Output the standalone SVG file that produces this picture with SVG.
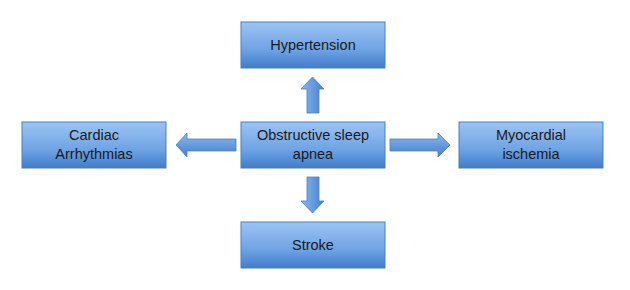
<svg xmlns="http://www.w3.org/2000/svg" width="630" height="290" viewBox="0 0 630 290">
<style>
.box{fill:url(#g);stroke:#4a7fc0;stroke-width:1}
.t{font-family:"Liberation Sans",Arial,sans-serif;font-size:14.5px;fill:#1a1a1a;text-anchor:middle}
.arr{stroke:#4a7fc0;stroke-width:0.8}
</style>
<defs>
<linearGradient id="g" x1="0" y1="0" x2="0" y2="1">
<stop offset="0" stop-color="#9cc4f4"/>
<stop offset="0.6" stop-color="#6fa3e4"/>
<stop offset="1" stop-color="#3f7dca"/>
</linearGradient>
<linearGradient id="gv" x1="0" y1="0" x2="1" y2="0">
<stop offset="0" stop-color="#8ab8f0"/>
<stop offset="1" stop-color="#4380cc"/>
</linearGradient>
<linearGradient id="gh" x1="0" y1="0" x2="0" y2="1">
<stop offset="0" stop-color="#8ab8f0"/>
<stop offset="1" stop-color="#4380cc"/>
</linearGradient>
</defs>
<rect width="630" height="290" fill="#ffffff"/>
<g id="connectors">
<polygon class="arr" fill="url(#gv)" points="307,113 307,89 301,89 312.5,77 324,89 319,89 319,113"/>
<polygon class="arr" fill="url(#gv)" points="307,177 307,201 301,201 312.5,213 324,201 319,201 319,177"/>
<polygon class="arr" fill="url(#gh)" points="236,139 187,139 187,133 176,145 187,157 187,151 236,151"/>
<polygon class="arr" fill="url(#gh)" points="390,139 438,139 438,133 450,145 438,157 438,151 390,151"/>
</g>
<g id="hypertension">
<rect class="box" x="241" y="22" width="144" height="46"/>
<text class="t" x="313" y="49.5">Hypertension</text>
</g>
<g id="osa">
<rect class="box" x="241" y="122" width="144" height="46"/>
<text class="t" x="313" y="140">Obstructive sleep</text>
<text class="t" x="313" y="158.5">apnea</text>
</g>
<g id="cardiac">
<rect class="box" x="22" y="122" width="144" height="46"/>
<text class="t" x="94" y="140">Cardiac</text>
<text class="t" x="94" y="158.5">Arrhythmias</text>
</g>
<g id="myocardial">
<rect class="box" x="459" y="122" width="144" height="46"/>
<text class="t" x="531" y="140">Myocardial</text>
<text class="t" x="531" y="158.5">ischemia</text>
</g>
<g id="stroke">
<rect class="box" x="241" y="222" width="144" height="46"/>
<text class="t" x="313" y="249.5">Stroke</text>
</g>
</svg>
